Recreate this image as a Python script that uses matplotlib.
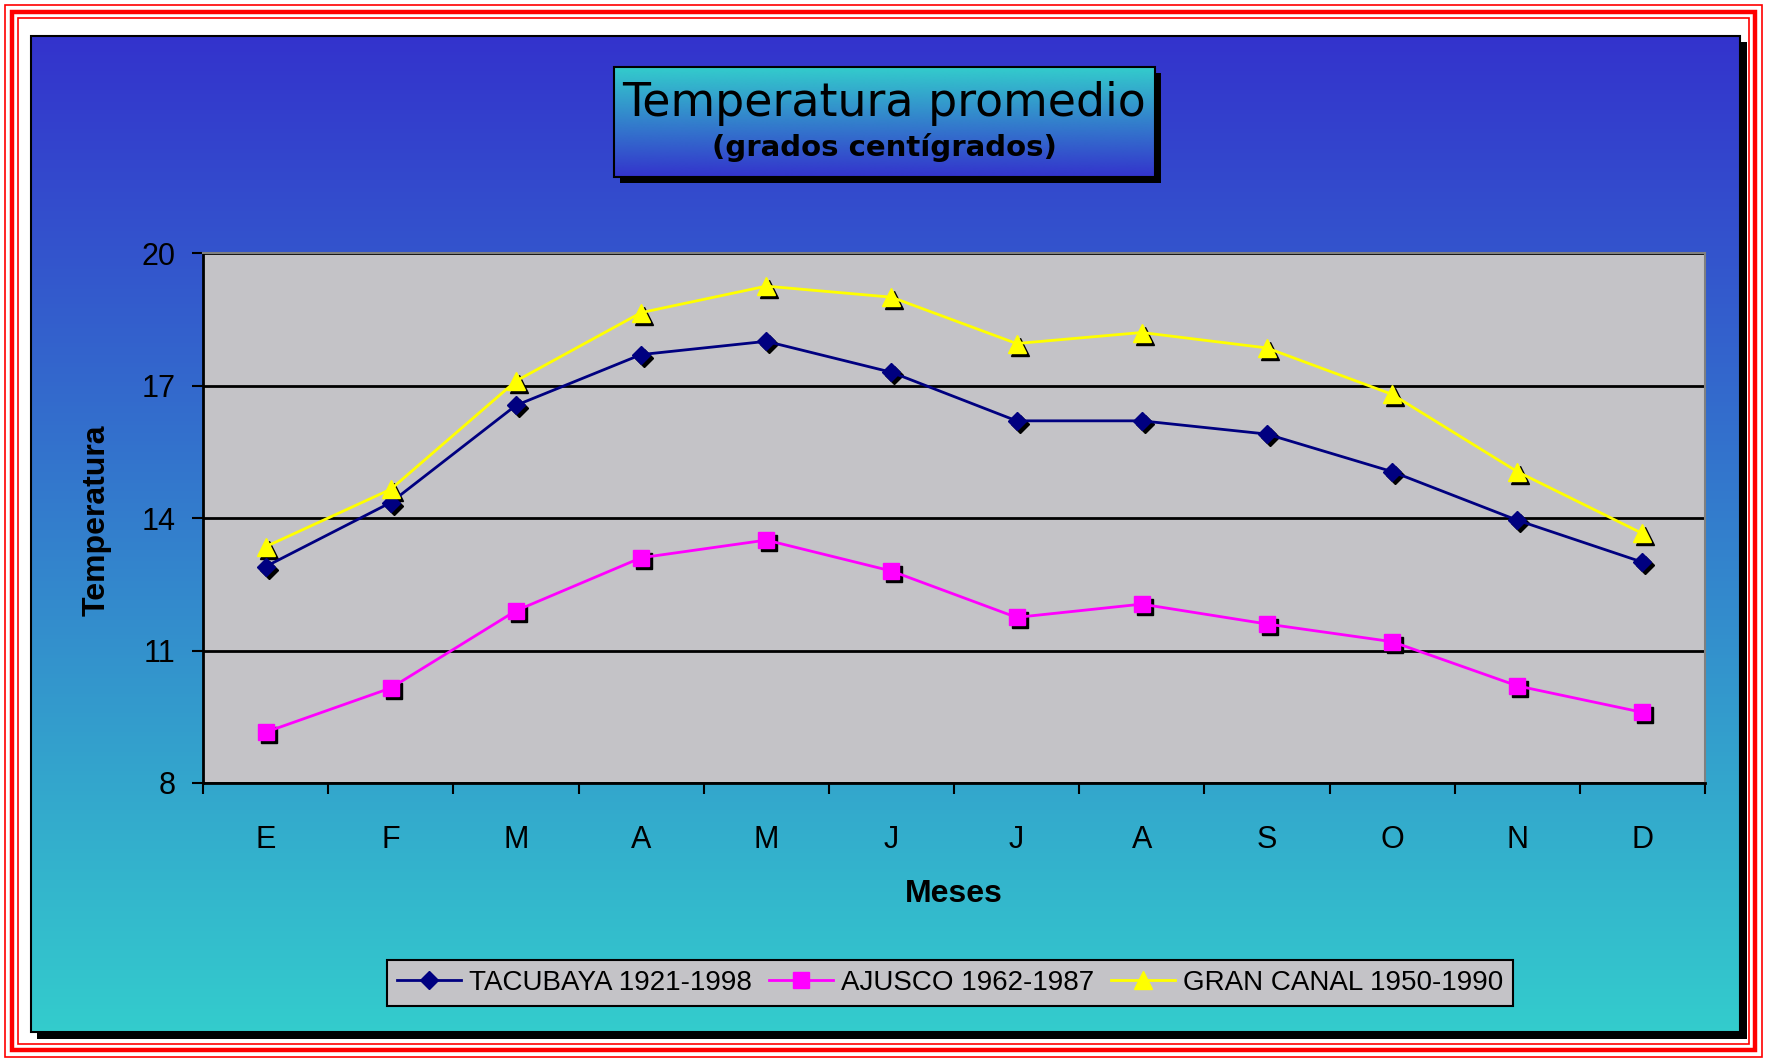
import numpy as np
import matplotlib.pyplot as plt
from matplotlib.colors import LinearSegmentedColormap
from matplotlib.patches import Rectangle
from matplotlib.lines import Line2D
from matplotlib.transforms import offset_copy

meses = ['E', 'F', 'M', 'A', 'M', 'J', 'J', 'A', 'S', 'O', 'N', 'D']
tacubaya = [12.9, 14.35, 16.55, 17.7, 18.0, 17.3, 16.2, 16.2, 15.9, 15.05, 13.95, 13.0]
ajusco = [9.15, 10.15, 11.9, 13.1, 13.5, 12.8, 11.75, 12.05, 11.6, 11.2, 10.2, 9.6]
gran_canal = [13.35, 14.65, 17.1, 18.65, 19.25, 19.0, 17.95, 18.2, 17.85, 16.8, 15.05, 13.65]
etiquetas = ['TACUBAYA 1921-1998', 'AJUSCO 1962-1987', 'GRAN CANAL 1950-1990']
y_ticks = [8, 11, 14, 17, 20]

W, H = 1767, 1062
fig = plt.figure(figsize=(W / 100, H / 100), dpi=100, facecolor='white')


def box(x0, y0, x1, y1):
    # pixel box (top-left origin) -> figure fraction [left, bottom, width, height]
    return [x0 / W, 1 - y1 / H, (x1 - x0) / W, (y1 - y0) / H]


def frame_rect(x0, y0, x1, y1, **kw):
    l, b, w, h = box(x0, y0, x1, y1)
    r = Rectangle((l, b), w, h, transform=fig.transFigure, **kw)
    fig.add_artist(r)
    return r


# red triple border
for inset, lw in [(5, 1.2), (12, 3.2), (18, 1.2)]:
    frame_rect(inset, inset, W - inset, H - inset, fill=False, ec='red', lw=lw, zorder=-3)

grad = np.linspace(0, 1, 256).reshape(-1, 1)
blue_cyan = LinearSegmentedColormap.from_list('bc', ['#3333CC', '#33CCCC'])
cyan_blue = LinearSegmentedColormap.from_list('cb', ['#33CCCC', '#3333CC'])

# chart area with shadow
frame_rect(37, 42, 1747, 1039, fc='black', ec='none', zorder=-2)
bg = fig.add_axes(box(31, 36, 1740, 1032))
bg.set_zorder(-1)
bg.imshow(grad, cmap=blue_cyan, aspect='auto', extent=[0, 1, 0, 1])
bg.set_axis_off()
frame_rect(31, 36, 1740, 1032, fill=False, ec='black', lw=1.5, zorder=0.5)

# title box with shadow
frame_rect(620, 73, 1161, 183, fc='black', ec='none', zorder=1)
tb = fig.add_axes(box(614, 67, 1155, 177))
tb.set_zorder(2)
tb.imshow(grad, cmap=cyan_blue, aspect='auto', extent=[0, 1, 0, 1])
tb.set_axis_off()
frame_rect(614, 67, 1155, 177, fill=False, ec='black', lw=1.5, zorder=3)
fig.text(884 / W, 1 - 103 / H, 'Temperatura promedio', ha='center', va='center',
         fontsize=33, family='DejaVu Sans', zorder=4)
fig.text(884 / W, 1 - 148 / H, '(grados centígrados)', ha='center', va='center',
         fontsize=21, fontweight='bold', family='DejaVu Sans', zorder=4)

# plot area
ax = fig.add_axes(box(203, 253, 1705, 783))
ax.set_zorder(1)
ax.set_facecolor('#C4C3C7')
x = np.arange(len(meses))
sh = offset_copy(ax.transData, fig=fig, x=3, y=-3, units='dots')

series = [
    (tacubaya, '#000080', 'D', 9.5),
    (ajusco, '#FF00FF', 's', 11.5),
    (gran_canal, '#FFFF00', '^', 13),
]
handles = []
for vals, c, m, ms in series:
    ax.plot(x, vals, ls='none', marker=m, ms=ms, color='black', mec='black', transform=sh, zorder=3)
    ax.plot(x, vals, color=c, lw=2, marker=m, ms=ms, mfc=c, mec=c, zorder=4)
    handles.append(Line2D([], [], color=c, lw=2, marker=m, ms=ms * 0.95, mfc=c, mec=c))

ax.set_xlim(-0.5, len(meses) - 0.5)
ax.set_ylim(8, 20)
ax.set_yticks(y_ticks)
ax.set_yticklabels([str(v) for v in y_ticks], family='Liberation Sans', fontsize=22)
ax.set_xticks(x)
ax.set_xticklabels(meses, family='Liberation Sans', fontsize=22)
ax.set_xticks(np.arange(-0.5, len(meses)), minor=True)
ax.tick_params(axis='x', which='major', length=0, pad=30)
ax.tick_params(axis='x', which='minor', length=8, width=1.5, direction='out', color='black')
ax.tick_params(axis='y', length=8, width=1.5, pad=12, color='black')
ax.grid(axis='y', color='black', lw=2)
ax.set_axisbelow(True)
for s in ['left', 'bottom']:
    ax.spines[s].set_color('black')
    ax.spines[s].set_linewidth(2)
for s in ['top', 'right']:
    ax.spines[s].set_color('#808080')
    ax.spines[s].set_linewidth(1.5)

fig.text(97 / W, 1 - 520 / H, 'Temperatura', rotation=90, ha='center', va='center',
         fontsize=23, fontweight='bold', family='Liberation Sans')
fig.text(954 / W, 1 - 894 / H, 'Meses', ha='center', va='center',
         fontsize=23, fontweight='bold', family='Liberation Sans')

leg = fig.legend(handles, etiquetas, ncol=3, loc='center', bbox_to_anchor=(950 / W, 1 - 983 / H),
                 frameon=True, fancybox=False, edgecolor='black', facecolor='#C4C3C7', framealpha=1,
                 prop={'family': 'Liberation Sans', 'size': 20}, handlelength=2.3,
                 handletextpad=0.3, columnspacing=0.6, borderpad=0.35)
leg.get_frame().set_linewidth(1.5)

fig.savefig('out.png', dpi=100, facecolor='white')
